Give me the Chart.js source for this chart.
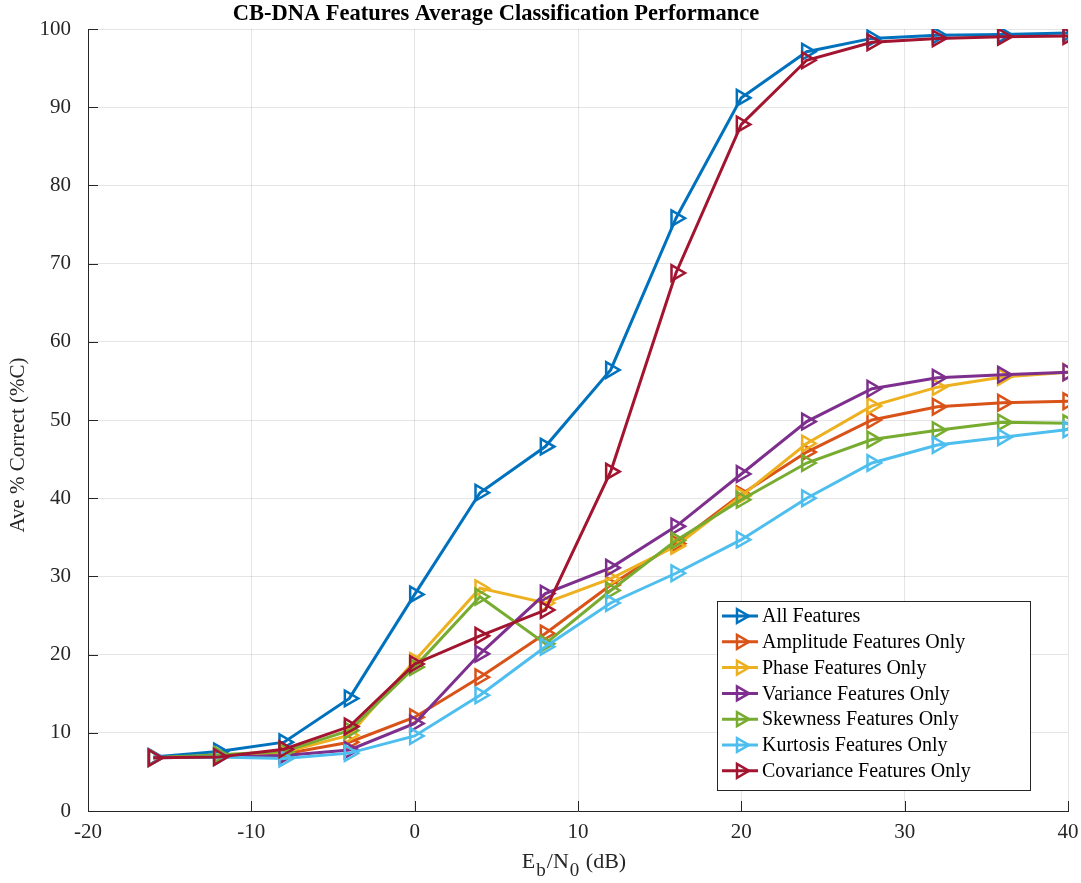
<!DOCTYPE html>
<html>
<head>
<meta charset="utf-8">
<script src="https://cdn.jsdelivr.net/npm/chart.js"></script>
<style>
  body { margin: 0; background: #fff; }
  #wrap { width: 1081px; height: 883px; }
</style>
</head>
<body>
<div id="wrap"><canvas id="graph" width="1081" height="883"></canvas></div>
<script>
// Eb/N0 values (dB)
const snr = [-16, -12, -8, -4, 0, 4, 8, 12, 16, 20, 24, 28, 32, 36, 40];

const allFeat   = [6.9, 7.6, 8.8, 14.4, 27.7, 40.7, 46.6, 56.4, 75.8, 91.2, 97.1, 98.8, 99.2, 99.3, 99.5];
const amplitude = [6.8, 7.0, 7.3, 8.8, 12.0, 17.1, 22.7, 28.9, 34.2, 40.5, 45.9, 50.0, 51.7, 52.2, 52.4];
const phase     = [6.8, 7.0, 7.5, 9.7, 19.2, 28.5, 26.6, 29.7, 33.9, 40.3, 47.0, 51.8, 54.2, 55.5, 56.1];
const variance  = [6.8, 6.9, 7.1, 7.8, 11.2, 20.1, 27.8, 31.1, 36.4, 43.1, 49.8, 54.0, 55.4, 55.8, 56.1];
const skewness  = [6.8, 7.2, 7.6, 10.3, 18.4, 27.4, 21.4, 28.2, 34.6, 39.8, 44.5, 47.5, 48.7, 49.7, 49.6];
const kurtosis  = [6.8, 6.9, 6.7, 7.4, 9.6, 14.8, 21.0, 26.6, 30.4, 34.7, 40.0, 44.5, 46.8, 47.8, 48.8];
const covar     = [6.8, 6.9, 7.9, 10.8, 18.8, 22.4, 25.7, 43.4, 68.8, 87.8, 96.0, 98.3, 98.8, 99.0, 99.1];

const seriesNames = ['All Features', 'Amplitude Features Only', 'Phase Features Only', 'Variance Features Only',
	'Skewness Features Only', 'Kurtosis Features Only', 'Covariance Features Only'];
const seriesData = [allFeat, amplitude, phase, variance, skewness, kurtosis, covar];
const colors = ['#0072BD', '#D95319', '#EDB120', '#7E2F8E', '#77AC30', '#4DBEEE', '#A2142F'];

const xTicks = [-20, -10, 0, 10, 20, 30, 40];
const yTicks = [0, 10, 20, 30, 40, 50, 60, 70, 80, 90, 100];

const serif = "'Liberation Serif', 'Times New Roman', serif";
const axisColor = '#262626';

function triangleRight(ctx, x, y, r) {
	ctx.beginPath();
	ctx.moveTo(x + r, y);
	ctx.lineTo(x - r * 0.5, y - r * 0.866);
	ctx.lineTo(x - r * 0.5, y + r * 0.866);
	ctx.closePath();
	ctx.stroke();
}

// titles, inward ticks and the legend box (matlab look)
const decorations = {
	id: 'decorations',
	afterDraw(chart) {
		const ctx = chart.ctx;
		const area = chart.chartArea;
		const xs = chart.scales.x;
		const ys = chart.scales.y;
		ctx.save();

		// inward tick marks
		ctx.strokeStyle = axisColor;
		ctx.lineWidth = 1;
		xTicks.forEach(v => {
			const px = Math.round(xs.getPixelForValue(v)) + 0.5;
			ctx.beginPath();
			ctx.moveTo(px, area.bottom);
			ctx.lineTo(px, area.bottom - 10);
			ctx.stroke();
		});
		yTicks.forEach(v => {
			const py = Math.round(ys.getPixelForValue(v)) + 0.5;
			ctx.beginPath();
			ctx.moveTo(area.left, py);
			ctx.lineTo(area.left + 10, py);
			ctx.stroke();
		});

		// title
		ctx.fillStyle = '#000';
		ctx.font = 'bold 22.5px ' + serif;
		ctx.textAlign = 'center';
		ctx.textBaseline = 'alphabetic';
		ctx.fillText('CB-DNA Features Average Classification Performance', area.left + 408, 20);

		// y label
		ctx.fillStyle = axisColor;
		ctx.save();
		ctx.translate(area.left - 70, area.top + 416);
		ctx.rotate(-Math.PI / 2);
		ctx.font = '21px ' + serif;
		ctx.textBaseline = 'middle';
		ctx.fillText('Ave % Correct (%C)', 0, 0);
		ctx.restore();

		// x label with subscripts
		const parts = [['E', 0], ['b', 1], ['/N', 0], ['0', 1], [' (dB)', 0]];
		const big = '22px ' + serif, small = '19px ' + serif;
		let total = 0;
		parts.forEach(p => { ctx.font = p[1] ? small : big; total += ctx.measureText(p[0]).width + (p[1] ? 2 : 0); });
		let cx = (area.left + area.right) / 2 - 4 - total / 2;
		const base = area.bottom + 57;
		ctx.textAlign = 'left';
		parts.forEach(p => {
			ctx.font = p[1] ? small : big;
			ctx.fillText(p[0], cx + (p[1] ? 1 : 0), base + (p[1] ? 8 : 0));
			cx += ctx.measureText(p[0]).width + (p[1] ? 2 : 0);
		});

		// legend
		const lx = area.right - 351, ly = area.bottom - 210, lw = 313, lh = 189;
		ctx.fillStyle = '#fff';
		ctx.fillRect(lx, ly, lw, lh);
		ctx.strokeStyle = axisColor;
		ctx.lineWidth = 1;
		ctx.strokeRect(lx + 0.5, ly + 0.5, lw, lh);
		ctx.font = '20px ' + serif;
		ctx.textBaseline = 'middle';
		chart.data.datasets.forEach((ds, i) => {
			const y = ly + 15 + i * 25.8;
			ctx.strokeStyle = ds.borderColor;
			ctx.lineWidth = 3;
			ctx.beginPath();
			ctx.moveTo(lx + 5, y);
			ctx.lineTo(lx + 41, y);
			ctx.stroke();
			ctx.lineWidth = 2.5;
			triangleRight(ctx, lx + 24, y, 8);
			ctx.fillStyle = '#000';
			ctx.fillText(ds.label, lx + 45, y + 1);
		});
		ctx.restore();
	}
};

const datasets = seriesNames.map((name, i) => ({
	label: name,
	data: snr.map((x, j) => ({ x: x, y: seriesData[i][j] })),
	borderColor: colors[i],
	backgroundColor: colors[i],
	borderWidth: 3,
	pointStyle: 'triangle',
	pointRotation: 90,
	pointRadius: 9,
	pointHoverRadius: 9,
	pointBorderWidth: 2.5,
	pointBackgroundColor: 'rgba(0,0,0,0)',
	pointBorderColor: colors[i],
	tension: 0,
	order: seriesNames.length - i
}));

const ctxGraph = document.getElementById('graph');

const myChart = new Chart(ctxGraph, {
	type: 'line',
	data: { datasets: datasets },
	options: {
		responsive: false,
		animation: false,
		layout: { padding: { top: 29, right: 13, left: 0, bottom: 0 } },
		scales: {
			x: {
				type: 'linear',
				min: -20,
				max: 40,
				afterFit: s => { s.height = 72; s.paddingLeft = 0; s.paddingRight = 0; },
				afterBuildTicks: s => { s.ticks = xTicks.map(v => ({ value: v })); },
				ticks: { color: axisColor, font: { family: serif, size: 21 }, padding: 9, maxRotation: 0 },
				grid: { color: 'rgba(38,38,38,0.12)', drawTicks: false },
				border: { display: true, color: axisColor, width: 1 }
			},
			y: {
				min: 0,
				max: 100,
				afterFit: s => { s.width = 88; s.paddingTop = 0; s.paddingBottom = 0; },
				afterBuildTicks: s => { s.ticks = yTicks.map(v => ({ value: v })); },
				ticks: { color: axisColor, font: { family: serif, size: 21 }, padding: 17 },
				grid: { color: 'rgba(38,38,38,0.12)', drawTicks: false },
				border: { display: true, color: axisColor, width: 1 }
			}
		},
		plugins: {
			legend: { display: false },
			title: { display: false },
			tooltip: { enabled: false }
		}
	},
	plugins: [decorations]
});
</script>
</body>
</html>
